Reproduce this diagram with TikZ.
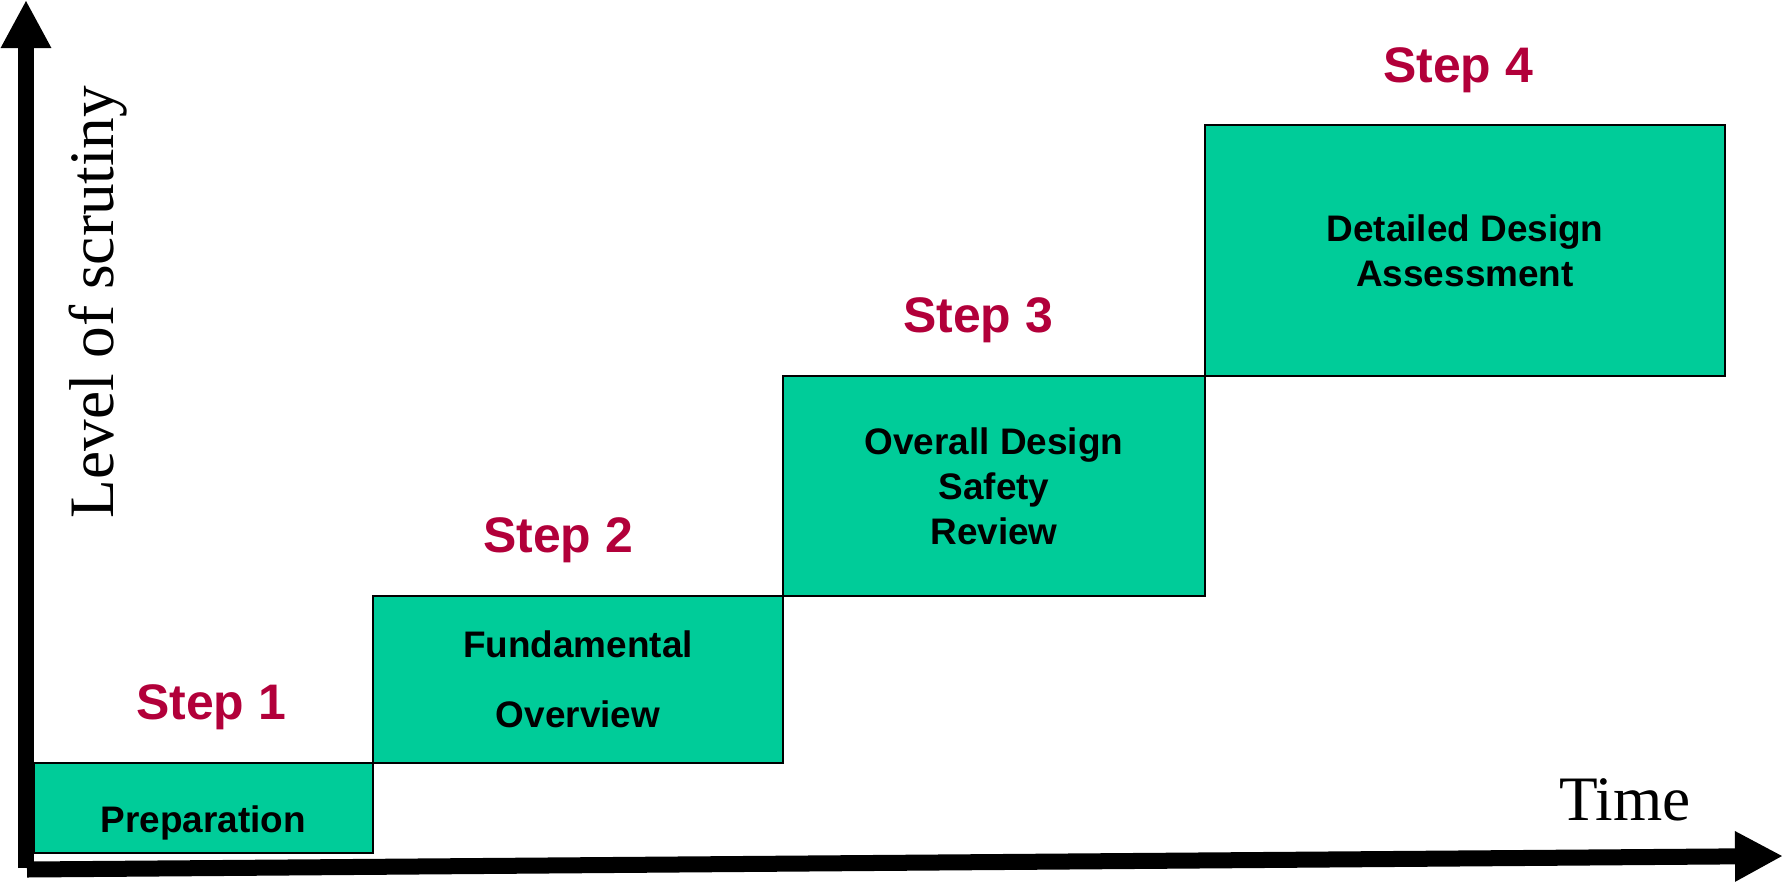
\documentclass[tikz,border=0pt]{standalone}
\usepackage{fontspec}
\setmainfont{Liberation Serif}
\setsansfont{Liberation Sans}
\usepackage{xcolor}
\usetikzlibrary{arrows.meta}
\definecolor{stagegreen}{RGB}{0,204,153}
\definecolor{stagered}{RGB}{178,0,58}

\begin{document}
\begin{tikzpicture}[x=0.01cm,y=-0.01cm,
		stagebox/.style={draw, fill=stagegreen, line width=0.7pt, inner sep=0pt, align=center, font=\sffamily\bfseries\fontsize{10.5}{12.8}\selectfont},
		steplabel/.style={anchor=base, text=stagered, font=\sffamily\bfseries\fontsize{14.2}{17}\selectfont},
		axislabel/.style={anchor=base, font=\fontsize{18}{21}\selectfont},
		axis/.style={line width=0.16cm, -{Triangle[length=0.48cm,width=0.47cm]}}]
		\useasboundingbox (0,0) rectangle (1785,885);

		\coordinate (yfoot) at (26,868);
		\coordinate (ytip) at (26,0);
		\coordinate (xfoot) at (27,869.5);
		\coordinate (xtip) at (1783,856);

		\draw[axis] (yfoot) -- (ytip);
		\draw[axis] (xfoot) -- (xtip);

		\node[stagebox, minimum width=3.39cm, minimum height=0.9cm, text height=0.48cm, text depth=0pt] (prep) at (203.5,808) {Preparation};
		\node[stagebox, minimum width=4.1cm, minimum height=1.67cm] (fund) at (578,679.5) {Fundamental\\[7pt]Overview};
		\node[stagebox, minimum width=4.22cm, minimum height=2.2cm] (overall) at (994,486) {Overall Design\\Safety\\Review};
		\node[stagebox, minimum width=5.2cm, minimum height=2.51cm] (detail) at (1465,250.5) {Detailed Design\\Assessment};

		\node[steplabel] (step1) at (211,719) {Step 1};
		\node[steplabel] (step2) at (558,552) {Step 2};
		\node[steplabel] (step3) at (978,332) {Step 3};
		\node[steplabel] (step4) at (1458,83) {Step 4};

		\node[axislabel, rotate=90] (scrutiny) at (113,302) {Level of scrutiny};
		\node[axislabel] (time) at (1625,820) {Time};
	\end{tikzpicture}
\end{document}
